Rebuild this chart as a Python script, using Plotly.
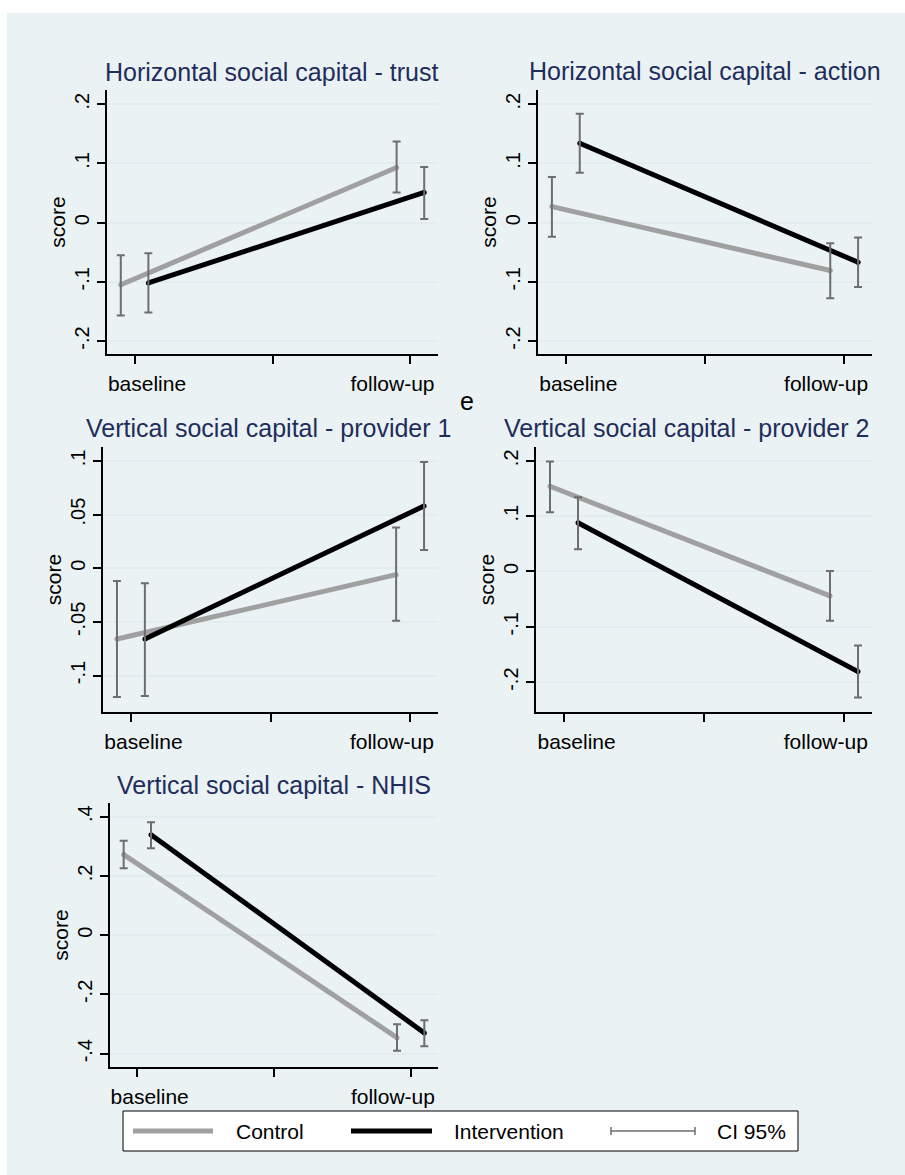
import plotly.graph_objects as go

W, H = 905, 1175

# ---- data -------------------------------------------------------------
periods = ["baseline", "follow-up"]
period_pos = [0, 1]
dodge = 0.05

titles = [
    "Horizontal social capital - trust",
    "Horizontal social capital - action",
    "Vertical social capital - provider 1",
    "Vertical social capital - provider 2",
    "Vertical social capital - NHIS",
]

control_mean = [[-0.105, 0.093], [0.027, -0.081], [-0.066, -0.006], [0.154, -0.044], [0.272, -0.346]]
control_lo = [[-0.157, 0.051], [-0.024, -0.128], [-0.120, -0.049], [0.107, -0.089], [0.226, -0.390]]
control_hi = [[-0.055, 0.137], [0.077, -0.035], [-0.012, 0.038], [0.199, 0.001], [0.319, -0.301]]

interv_mean = [[-0.102, 0.051], [0.134, -0.067], [-0.066, 0.058], [0.088, -0.181], [0.339, -0.330]]
interv_lo = [[-0.152, 0.006], [0.084, -0.109], [-0.119, 0.017], [0.040, -0.228], [0.293, -0.375]]
interv_hi = [[-0.052, 0.094], [0.184, -0.025], [-0.014, 0.099], [0.134, -0.134], [0.381, -0.287]]

ytick_vals = [
    [-0.2, -0.1, 0, 0.1, 0.2],
    [-0.2, -0.1, 0, 0.1, 0.2],
    [-0.1, -0.05, 0, 0.05, 0.1],
    [-0.2, -0.1, 0, 0.1, 0.2],
    [-0.4, -0.2, 0, 0.2, 0.4],
]
ytick_text = [
    ["-.2", "-.1", "0", ".1", ".2"],
    ["-.2", "-.1", "0", ".1", ".2"],
    ["-.1", "-.05", "0", ".05", ".1"],
    ["-.2", "-.1", "0", ".1", ".2"],
    ["-.4", "-.2", "0", ".2", ".4"],
]
y_ranges = [[-0.222, 0.224], [-0.222, 0.224], [-0.134, 0.113], [-0.254, 0.225], [-0.445, 0.446]]

# ---- layout geometry (pixels) -----------------------------------------
# plot areas: (left, right, top, bottom)
boxes = [
    (107, 438, 90, 354),
    (538, 872, 90, 354),
    (103, 438, 447, 712),
    (536, 872, 447, 712),
    (110, 438, 803, 1067),
]
title_pos = [(272, 72), (705, 71), (268, 428), (686, 428), (274, 785)]
# period labels sit inside the plotted x range, flush with its ends
label_pos = [0.045, 0.935]

BG = "#eaf2f3"
GRID = "#e3ecee"
CTRL = "#a0a0a0"
INTV = "#000000"
CI = "#6e6e6e"
TITLE_C = "#1f2d5c"
FONT = "Liberation Sans, Arial, sans-serif"


def fx(px):
    return px / W


def fy(py):
    return 1 - py / H


fig = go.Figure()
layout = {}

for i in range(5):
    n = "" if i == 0 else str(i + 1)
    xa, ya = "x" + n, "y" + n
    l, r, t, b = boxes[i]

    cx = [p - dodge for p in period_pos]
    ix = [p + dodge for p in period_pos]

    fig.add_trace(go.Scatter(
        x=cx, y=control_mean[i], xaxis=xa, yaxis=ya, mode="lines+markers",
        line=dict(color=CTRL, width=5), marker=dict(color=CTRL, size=5),
        showlegend=False, hoverinfo="skip"))
    fig.add_trace(go.Scatter(
        x=ix, y=interv_mean[i], xaxis=xa, yaxis=ya, mode="lines+markers",
        line=dict(color=INTV, width=5), marker=dict(color=INTV, size=5),
        showlegend=False, hoverinfo="skip"))
    # 95% confidence intervals drawn over the lines
    for xs, m, lo, hi in ((cx, control_mean[i], control_lo[i], control_hi[i]),
                          (ix, interv_mean[i], interv_lo[i], interv_hi[i])):
        fig.add_trace(go.Scatter(
            x=xs, y=m, xaxis=xa, yaxis=ya, mode="markers",
            marker=dict(size=1, color="rgba(0,0,0,0)"),
            error_y=dict(type="data", symmetric=False,
                         array=[h - v for h, v in zip(hi, m)],
                         arrayminus=[v - lo_ for v, lo_ in zip(m, lo)],
                         color=CI, thickness=2, width=4),
            showlegend=False, hoverinfo="skip"))

    layout["xaxis" + n] = dict(
        domain=[fx(l), fx(r)], anchor=ya, range=[-0.1, 1.1], automargin=False,
        tickvals=label_pos, ticktext=periods, ticks="", ticklabelstandoff=10,
        minor=dict(tickvals=[0, 0.5, 1], ticks="outside", ticklen=8,
                   tickwidth=1.5, tickcolor="black", showgrid=False),
        showline=True, linecolor="black", linewidth=1.5,
        showgrid=False, zeroline=False,
        tickfont=dict(size=21, color="black", family=FONT),
    )
    layout["yaxis" + n] = dict(
        domain=[fy(b), fy(t)], anchor=xa, range=y_ranges[i], automargin=False,
        tickvals=ytick_vals[i], ticktext=ytick_text[i], tickangle=-90,
        ticks="outside", ticklen=8, tickwidth=1.5, tickcolor="black",
        showline=True, linecolor="black", linewidth=1.5,
        showgrid=True, gridcolor=GRID, gridwidth=1.5, zeroline=False,
        tickfont=dict(size=20, color="black", family=FONT),
        title=dict(text="score", standoff=0,
                   font=dict(size=21, color="black", family=FONT)),
    )

annotations = []
for i in range(5):
    px, py = title_pos[i]
    annotations.append(dict(
        text=titles[i], x=fx(px), y=fy(py), xref="paper", yref="paper",
        xanchor="center", yanchor="middle", showarrow=False,
        font=dict(size=25, color=TITLE_C, family=FONT)))

annotations.append(dict(
    text="e", x=fx(467), y=fy(401), xref="paper", yref="paper",
    xanchor="center", yanchor="middle", showarrow=False,
    font=dict(size=25, color="black", family=FONT)))

shapes = [
    dict(type="rect", xref="paper", yref="paper", layer="below",
         x0=fx(7), x1=fx(905), y0=fy(1175), y1=fy(13),
         fillcolor=BG, line=dict(width=0)),
]

# ---- legend -----------------------------------------------------------
ly = 1131
shapes.append(dict(type="rect", xref="paper", yref="paper",
                   x0=fx(123), x1=fx(798), y0=fy(1151), y1=fy(1111),
                   fillcolor="white", line=dict(color="black", width=1)))
legend_items = [
    ("Control", CTRL, 5, 133, 213, 234),
    ("Intervention", INTV, 5, 351, 432, 452),
    ("CI 95%", CI, 1.5, 611, 695, 715),
]
for label, col, wdt, x0, x1, tx in legend_items:
    shapes.append(dict(type="line", xref="paper", yref="paper",
                       x0=fx(x0), x1=fx(x1), y0=fy(ly), y1=fy(ly),
                       line=dict(color=col, width=wdt)))
    if label == "CI 95%":
        for xc in (x0, x1):
            shapes.append(dict(type="line", xref="paper", yref="paper",
                               x0=fx(xc), x1=fx(xc), y0=fy(ly - 4), y1=fy(ly + 4),
                               line=dict(color=col, width=1.5)))
    annotations.append(dict(
        text=label, x=fx(tx), y=fy(ly), xref="paper", yref="paper",
        xanchor="left", yanchor="middle", showarrow=False,
        font=dict(size=21, color="black", family=FONT)))

fig.update_layout(
    width=W, height=H, margin=dict(l=0, r=0, t=0, b=0),
    paper_bgcolor="white", plot_bgcolor="white",
    font=dict(family=FONT), showlegend=False,
    annotations=annotations, shapes=shapes, **layout,
)

fig.write_html("out.html")
